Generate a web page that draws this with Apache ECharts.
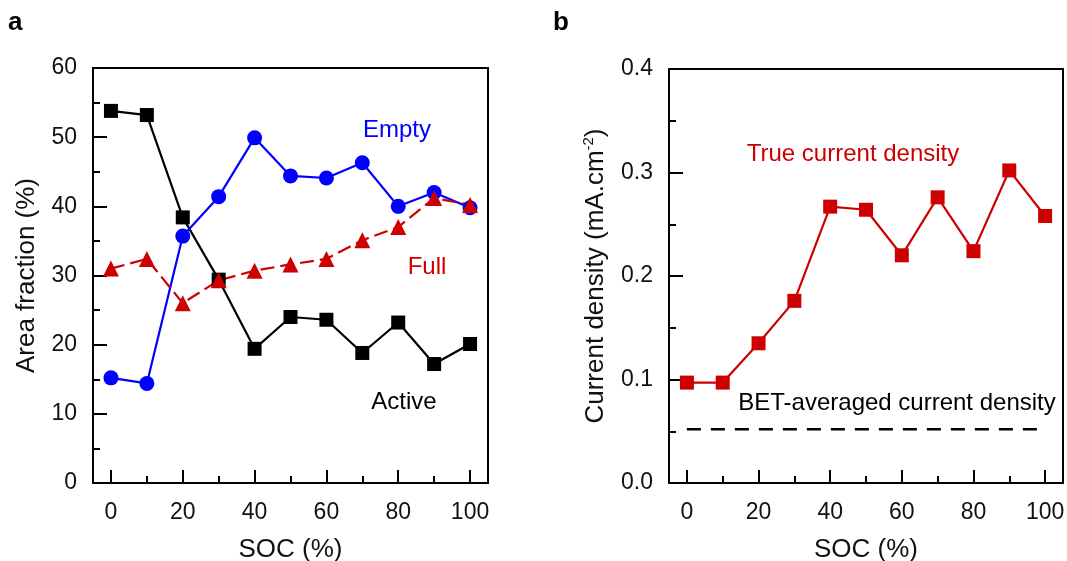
<!DOCTYPE html>
<html>
<head>
<meta charset="utf-8">
<script src="https://cdn.jsdelivr.net/npm/echarts@6/dist/echarts.min.js"></script>
<style>
  html, body { margin: 0; padding: 0; background: #fff; }
  #main { width: 1067px; height: 561px; }
</style>
</head>
<body>
<div id="main"></div>
<script>
// SOC values (x) shared by both panels
var socValues = [0, 10, 20, 30, 40, 50, 60, 70, 80, 90, 100];
// panel a: area fraction (%)
var activeFrac = [53.8, 53.2, 38.4, 29.4, 19.4, 24.0, 23.6, 18.8, 23.2, 17.2, 20.1];
var emptyFrac = [15.2, 14.4, 35.7, 41.4, 49.9, 44.4, 44.1, 46.3, 40.0, 42.0, 39.8];
var fullFrac = [31.0, 32.4, 26.0, 29.3, 30.7, 31.6, 32.4, 35.1, 37.0, 41.2, 40.2];
// panel b: current density (mA.cm-2)
var trueDensity = [0.097, 0.097, 0.135, 0.176, 0.267, 0.264, 0.220, 0.276, 0.224, 0.302, 0.258];
var betAverage = 0.052;
var betRange = [0, 100];
// tick labels
var majorTicksX = [0, 20, 40, 60, 80, 100];
var minorTicksX = [10, 30, 50, 70, 90];

function pairs(xs, ys) {
  return xs.map(function (x, i) { return [x, ys[i]]; });
}

var font = 'Liberation Sans, Arial, sans-serif';
var chart = echarts.init(document.getElementById('main'));

function xAxisMain(gridIndex) {
  return {
    type: 'value', gridIndex: gridIndex, min: -5, max: 105,
    name: 'SOC (%)', nameLocation: 'middle', nameGap: 54,
    nameTextStyle: { fontFamily: font, fontSize: 26, color: '#111' },
    axisLine: { lineStyle: { color: '#000', width: 2 } },
    axisTick: { inside: true, length: 13, customValues: majorTicksX, lineStyle: { color: '#000', width: 2 } },
    axisLabel: { customValues: majorTicksX, margin: 18, fontFamily: font, fontSize: 23, color: '#111' },
    splitLine: { show: false }
  };
}
function xAxisMinor(gridIndex) {
  return {
    type: 'value', gridIndex: gridIndex, min: -5, max: 105, position: 'bottom',
    axisLine: { show: false },
    axisTick: { inside: true, length: 7, customValues: minorTicksX, lineStyle: { color: '#000', width: 2 } },
    axisLabel: { show: false },
    splitLine: { show: false }
  };
}

var option = {
  animation: false,
  grid: [
    { left: 93, top: 68, width: 395, height: 415, outerBoundsMode: 'none', containLabel: false, show: true, borderColor: '#000', borderWidth: 2 },
    { left: 669, top: 69, width: 394, height: 414, outerBoundsMode: 'none', containLabel: false, show: true, borderColor: '#000', borderWidth: 2 }
  ],
  xAxis: [xAxisMain(0), xAxisMinor(0), xAxisMain(1), xAxisMinor(1)],
  yAxis: [
    {
      type: 'value', gridIndex: 0, min: 0, max: 60, interval: 10,
      name: 'Area fraction (%)', nameLocation: 'middle', nameGap: 53,
      nameTextStyle: { fontFamily: font, fontSize: 26, color: '#111' },
      axisLine: { show: true, onZero: false, lineStyle: { color: '#000', width: 2 } },
      axisTick: { show: true, inside: true, length: 14, lineStyle: { color: '#000', width: 2 } },
      minorTick: { show: true, splitNumber: 2, length: 7, lineStyle: { color: '#000', width: 2 } },
      axisLabel: { margin: 16, fontFamily: font, fontSize: 23, color: '#111' },
      splitLine: { show: false }
    },
    {
      type: 'value', gridIndex: 1, min: 0, max: 0.4, interval: 0.1,
      name: 'Current density (mA.cm{sup|-2})', nameLocation: 'middle', nameGap: 59,
      nameTextStyle: {
        fontFamily: font, fontSize: 26, color: '#111',
        rich: { sup: { fontFamily: font, fontSize: 15, color: '#111', verticalAlign: 'top', padding: [0, 0, 14, 0] } }
      },
      axisLine: { show: true, onZero: false, lineStyle: { color: '#000', width: 2 } },
      axisTick: { show: true, inside: true, length: 14, lineStyle: { color: '#000', width: 2 } },
      minorTick: { show: true, splitNumber: 2, length: 7, lineStyle: { color: '#000', width: 2 } },
      axisLabel: {
        margin: 16, fontFamily: font, fontSize: 23, color: '#111',
        formatter: function (v) { return v.toFixed(1); }
      },
      splitLine: { show: false }
    }
  ],
  series: [
    {
      name: 'Active', type: 'line', xAxisIndex: 0, yAxisIndex: 0,
      data: pairs(socValues, activeFrac),
      symbol: 'rect', symbolSize: 14,
      lineStyle: { color: '#000', width: 2.2 }, itemStyle: { color: '#000' }
    },
    {
      name: 'Empty', type: 'line', xAxisIndex: 0, yAxisIndex: 0,
      data: pairs(socValues, emptyFrac),
      symbol: 'circle', symbolSize: 15,
      lineStyle: { color: '#0000ff', width: 2.2 }, itemStyle: { color: '#0000ff' }
    },
    {
      name: 'Full', type: 'line', xAxisIndex: 0, yAxisIndex: 0,
      data: pairs(socValues, fullFrac),
      symbol: 'triangle', symbolSize: 16,
      lineStyle: { color: '#cc0000', width: 2.2, type: [14, 6] }, itemStyle: { color: '#cc0000' }
    },
    {
      name: 'True current density', type: 'line', xAxisIndex: 2, yAxisIndex: 1,
      data: pairs(socValues, trueDensity),
      symbol: 'rect', symbolSize: 14,
      lineStyle: { color: '#cc0000', width: 2.2 }, itemStyle: { color: '#cc0000' }
    },
    {
      name: 'BET-averaged current density', type: 'line', xAxisIndex: 2, yAxisIndex: 1,
      data: betRange.map(function (x) { return [x, betAverage]; }),
      symbol: 'none',
      lineStyle: { color: '#000', width: 2.5, type: [14, 10] }
    }
  ],
  graphic: [
    { type: 'text', left: 8, top: 10, style: { text: 'a', fontFamily: font, fontSize: 26, fontWeight: 'bold', fill: '#000' } },
    { type: 'text', left: 553, top: 10, style: { text: 'b', fontFamily: font, fontSize: 26, fontWeight: 'bold', fill: '#000' } },
    { type: 'text', x: 397, y: 130, style: { text: 'Empty', fontFamily: font, fontSize: 24, fill: '#0000ff', align: 'center', verticalAlign: 'middle' } },
    { type: 'text', x: 427, y: 267, style: { text: 'Full', fontFamily: font, fontSize: 24, fill: '#cc0000', align: 'center', verticalAlign: 'middle' } },
    { type: 'text', x: 404, y: 402, style: { text: 'Active', fontFamily: font, fontSize: 24, fill: '#000', align: 'center', verticalAlign: 'middle' } },
    { type: 'text', x: 853, y: 154, style: { text: 'True current density', fontFamily: font, fontSize: 24, fill: '#cc0000', align: 'center', verticalAlign: 'middle' } },
    { type: 'text', x: 897, y: 403, style: { text: 'BET-averaged current density', fontFamily: font, fontSize: 24, fill: '#000', align: 'center', verticalAlign: 'middle' } }
  ]
};

chart.setOption(option);
</script>
</body>
</html>
